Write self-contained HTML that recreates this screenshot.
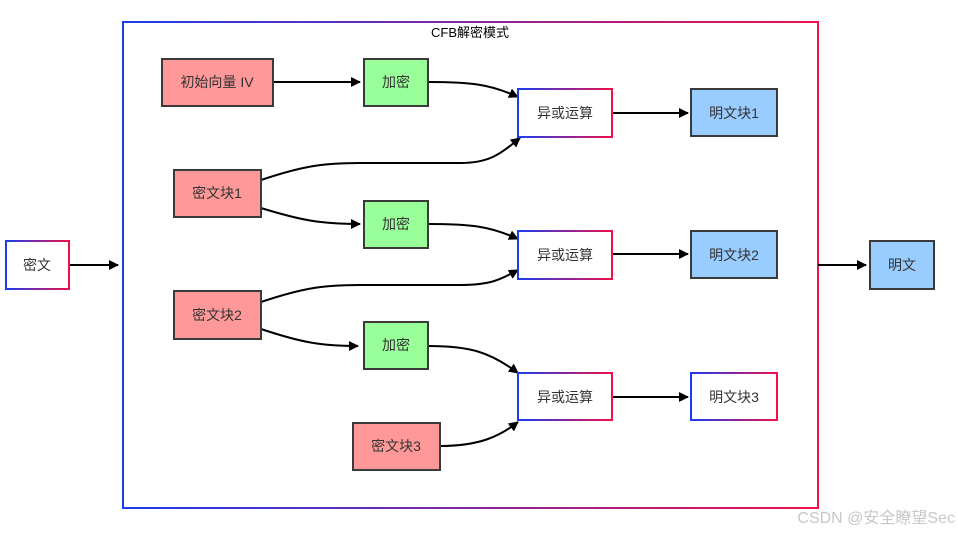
<!DOCTYPE html>
<html><head><meta charset="utf-8"><style>
html,body{margin:0;padding:0;background:#fff;}
svg{display:block;font-family:"Liberation Sans","Noto Sans CJK SC",sans-serif;}
</style></head><body>
<svg width="958" height="534" viewBox="0 0 958 534" xmlns="http://www.w3.org/2000/svg">
<defs>
<linearGradient id="g" x1="0" y1="0" x2="1" y2="0"><stop offset="0" stop-color="#1a3cf0"/><stop offset="1" stop-color="#f0104a"/></linearGradient>
<marker id="a" viewBox="0 0 10 10" refX="9" refY="5" markerWidth="5" markerHeight="5" orient="auto"><path d="M0,0L10,5L0,10z" fill="#000"/></marker>
</defs>
<rect x="123" y="22" width="695" height="486" fill="none" stroke="url(#g)" stroke-width="2"/>
<text x="470" y="37" font-size="13" text-anchor="middle" fill="#000">CFB解密模式</text>
<g stroke="#000" stroke-width="2" fill="none" marker-end="url(#a)">
<path d="M69,265 L118,265"/>
<path d="M818,265 L866,265"/>
<path d="M273,82 L360,82"/>
<path d="M428,82 C470,82 490,84 518,97"/>
<path d="M261,180 C300,167 320,163 360,163 L460,163 C490,163 500,154 520,138"/>
<path d="M261,208 C300,220 320,224 360,224"/>
<path d="M428,224 C470,224 490,226 518,239"/>
<path d="M261,302 C300,289 320,285 360,285 L460,285 C490,285 500,280 518,270"/>
<path d="M261,329 C300,342 320,346 358,346"/>
<path d="M428,346 C470,346 490,352 518,373"/>
<path d="M440,446 C480,446 500,436 518,422"/>
<path d="M612,113 L688,113"/>
<path d="M612,254 L688,254"/>
<path d="M612,397 L688,397"/>
</g>
<g stroke="#3a3a3a" stroke-width="2">
<rect x="162" y="59" width="111" height="47" fill="#ff9999"/>
<rect x="174" y="170" width="87" height="47" fill="#ff9999"/>
<rect x="174" y="291" width="87" height="48" fill="#ff9999"/>
<rect x="353" y="423" width="87" height="47" fill="#ff9999"/>
<rect x="364" y="59" width="64" height="47" fill="#99ff99"/>
<rect x="364" y="201" width="64" height="47" fill="#99ff99"/>
<rect x="364" y="322" width="64" height="47" fill="#99ff99"/>
<rect x="691" y="89" width="86" height="47" fill="#99ccff"/>
<rect x="691" y="231" width="86" height="47" fill="#99ccff"/>
<rect x="870" y="241" width="64" height="48" fill="#99ccff"/>
</g>
<g stroke="url(#g)" stroke-width="2" fill="#fff">
<rect x="6" y="241" width="63" height="48"/>
<rect x="518" y="89" width="94" height="48"/>
<rect x="518" y="231" width="94" height="48"/>
<rect x="518" y="373" width="94" height="47"/>
<rect x="691" y="373" width="86" height="47"/>
</g>
<g font-size="14" fill="#333" text-anchor="middle">
<text x="37" y="270">密文</text>
<text x="217" y="87">初始向量 IV</text>
<text x="217" y="198">密文块1</text>
<text x="217" y="320">密文块2</text>
<text x="396" y="451">密文块3</text>
<text x="396" y="87">加密</text>
<text x="396" y="229">加密</text>
<text x="396" y="350">加密</text>
<text x="565" y="118">异或运算</text>
<text x="565" y="260">异或运算</text>
<text x="565" y="402">异或运算</text>
<text x="734" y="118">明文块1</text>
<text x="734" y="260">明文块2</text>
<text x="734" y="402">明文块3</text>
<text x="902" y="270">明文</text>
</g>
<text x="955" y="523" font-size="16" fill="#c8c8c8" text-anchor="end">CSDN @安全瞭望Sec</text>
</svg>
</body></html>
